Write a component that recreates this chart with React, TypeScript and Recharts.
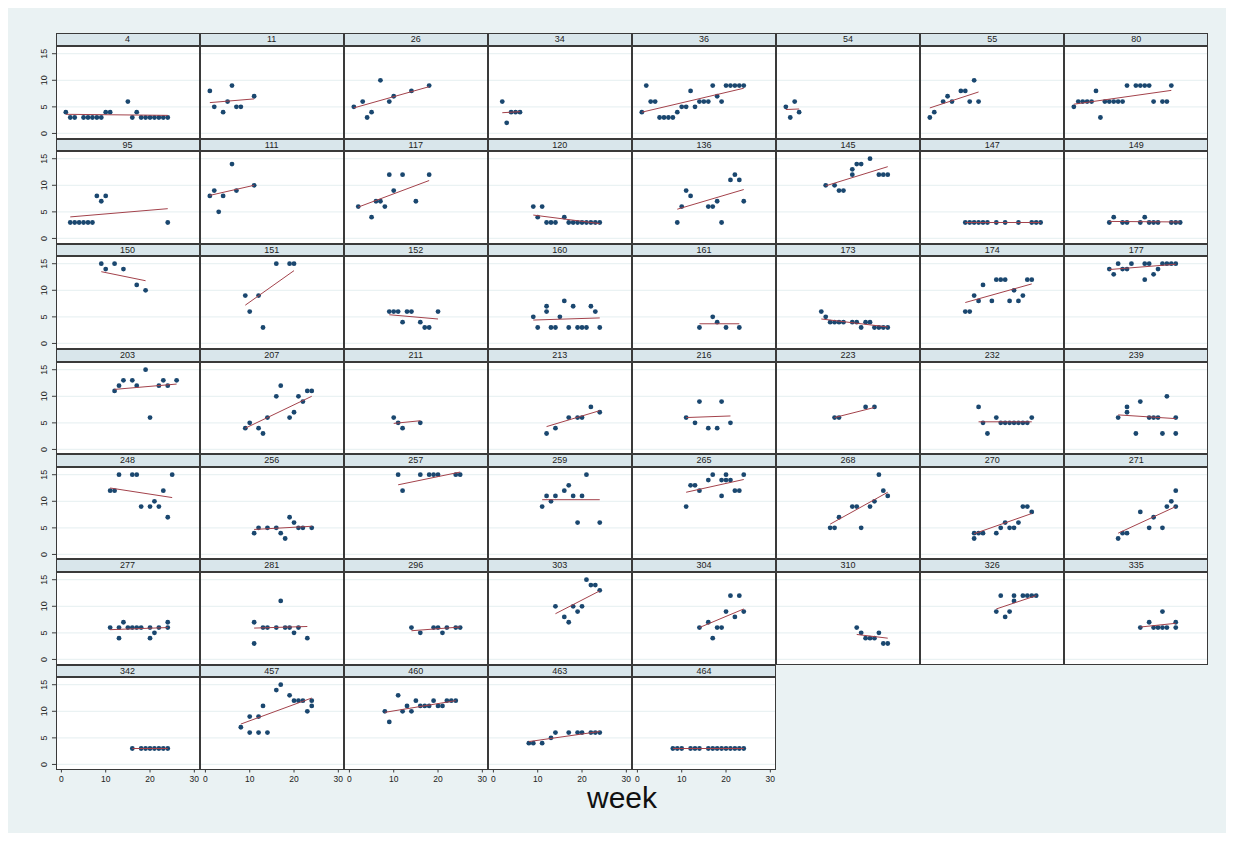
import { ScatterChart, Scatter, XAxis, YAxis, ReferenceLine } from 'recharts'

// one entry per patient panel, in reading order
const panelIds = [
  4, 11, 26, 34, 36, 54, 55, 80,
  95, 111, 117, 120, 136, 145, 147, 149,
  150, 151, 152, 160, 161, 173, 174, 177,
  203, 207, 211, 213, 216, 223, 232, 239,
  248, 256, 257, 259, 265, 268, 270, 271,
  277, 281, 296, 303, 304, 310, 326, 335,
  342, 457, 460, 463, 464,
]

const weeks = [
  [1, 2, 3, 5, 6, 7, 8, 9, 10, 11, 15, 16, 17, 18, 19, 20, 21, 22, 23, 24],
  [1, 2, 4, 5, 6, 7, 8, 11],
  [1, 3, 4, 5, 7, 9, 10, 14, 18],
  [2, 3, 4, 5, 6],
  [1, 2, 3, 4, 5, 6, 7, 8, 9, 10, 11, 12, 13, 14, 15, 16, 17, 18, 19, 20, 21, 22, 23, 24],
  [1, 2, 3, 4],
  [1, 2, 4, 5, 6, 8, 9, 10, 11, 12],
  [1, 2, 3, 4, 5, 6, 7, 8, 9, 10, 11, 12, 13, 15, 16, 17, 18, 19, 21, 22, 23],
  [2, 3, 4, 5, 6, 7, 8, 9, 10, 24],
  [1, 2, 3, 4, 6, 7, 11],
  [2, 5, 6, 7, 8, 9, 10, 12, 15, 18],
  [9, 10, 11, 12, 13, 14, 16, 17, 18, 19, 20, 21, 22, 23, 24],
  [9, 10, 11, 12, 16, 17, 18, 19, 21, 22, 23, 24],
  [10, 12, 13, 14, 16, 16, 17, 18, 20, 22, 23, 24],
  [9, 10, 11, 12, 13, 14, 16, 18, 21, 24, 25, 26],
  [9, 10, 12, 13, 16, 17, 18, 19, 20, 23, 24, 25],
  [9, 10, 12, 14, 17, 19],
  [9, 10, 12, 13, 16, 19, 20],
  [9, 10, 11, 12, 13, 14, 16, 17, 18, 20],
  [9, 10, 12, 12, 13, 14, 15, 16, 17, 18, 19, 20, 21, 22, 23, 24],
  [14, 17, 18, 20, 23],
  [9, 10, 11, 12, 13, 14, 16, 17, 18, 19, 20, 21, 22, 23, 24],
  [9, 10, 11, 12, 13, 15, 16, 17, 18, 19, 20, 21, 22, 23, 24],
  [9, 10, 11, 12, 13, 14, 17, 17, 18, 19, 20, 21, 22, 23, 24],
  [12, 13, 14, 16, 17, 19, 20, 22, 23, 24, 26],
  [9, 10, 12, 13, 14, 16, 17, 19, 20, 21, 22, 23, 24],
  [10, 11, 12, 16],
  [12, 14, 17, 19, 20, 22, 24],
  [11, 13, 14, 16, 18, 19, 21],
  [12, 13, 19, 21],
  [12, 13, 14, 16, 17, 18, 19, 20, 21, 22, 23, 24],
  [11, 13, 13, 15, 16, 18, 19, 20, 21, 22, 24, 24],
  [11, 12, 13, 16, 17, 18, 20, 21, 22, 23, 24, 25],
  [11, 12, 14, 16, 17, 18, 19, 20, 21, 22, 24],
  [11, 12, 16, 18, 19, 20, 24, 25],
  [11, 12, 13, 14, 16, 17, 18, 19, 20, 21, 24],
  [11, 12, 13, 14, 16, 17, 19, 19, 20, 20, 21, 22, 23, 24],
  [11, 12, 13, 16, 17, 18, 20, 21, 22, 23, 24],
  [11, 11, 12, 13, 16, 17, 18, 19, 20, 21, 22, 23, 24],
  [11, 12, 13, 16, 18, 19, 21, 22, 23, 24, 24],
  [11, 13, 13, 14, 15, 16, 17, 18, 20, 20, 21, 22, 24, 24],
  [11, 11, 13, 14, 16, 17, 18, 19, 20, 21, 23],
  [14, 16, 19, 20, 21, 22, 24, 25],
  [14, 16, 17, 18, 19, 20, 21, 22, 23, 24],
  [14, 16, 17, 18, 19, 20, 21, 22, 23, 24],
  [17, 18, 19, 20, 21, 22, 23, 24],
  [16, 17, 18, 19, 20, 20, 22, 23, 24, 25],
  [16, 18, 19, 20, 21, 21, 22, 24, 24],
  [16, 18, 19, 20, 21, 22, 23, 24],
  [8, 10, 10, 12, 12, 13, 14, 16, 17, 19, 20, 21, 22, 23, 24, 24],
  [8, 9, 11, 12, 13, 14, 15, 16, 17, 18, 19, 20, 21, 22, 23, 24],
  [8, 9, 11, 13, 14, 17, 19, 20, 22, 23, 24],
  [8, 9, 10, 12, 13, 14, 16, 17, 18, 19, 20, 21, 22, 23, 24],
]

const scores = [
  [4, 3, 3, 3, 3, 3, 3, 3, 4, 4, 6, 3, 4, 3, 3, 3, 3, 3, 3, 3],
  [8, 5, 4, 6, 9, 5, 5, 7],
  [5, 6, 3, 4, 10, 6, 7, 8, 9],
  [6, 2, 4, 4, 4],
  [4, 9, 6, 6, 3, 3, 3, 3, 4, 5, 5, 8, 5, 6, 6, 6, 9, 7, 6, 9, 9, 9, 9, 9],
  [5, 3, 6, 4],
  [3, 4, 6, 7, 6, 8, 8, 6, 10, 6],
  [5, 6, 6, 6, 6, 8, 3, 6, 6, 6, 6, 6, 9, 9, 9, 9, 9, 6, 6, 6, 9],
  [3, 3, 3, 3, 3, 3, 8, 7, 8, 3],
  [8, 9, 5, 8, 14, 9, 10],
  [6, 4, 7, 7, 6, 12, 9, 12, 7, 12],
  [6, 4, 6, 3, 3, 3, 4, 3, 3, 3, 3, 3, 3, 3, 3],
  [3, 6, 9, 8, 6, 6, 7, 3, 11, 12, 11, 7],
  [10, 10, 9, 9, 12, 13, 14, 14, 15, 12, 12, 12],
  [3, 3, 3, 3, 3, 3, 3, 3, 3, 3, 3, 3],
  [3, 4, 3, 3, 3, 4, 3, 3, 3, 3, 3, 3],
  [15, 14, 15, 14, 11, 10],
  [9, 6, 9, 3, 15, 15, 15],
  [6, 6, 6, 4, 6, 6, 4, 3, 3, 6],
  [5, 3, 7, 6, 3, 3, 5, 8, 3, 7, 3, 3, 3, 7, 6, 3],
  [3, 5, 4, 3, 3],
  [6, 5, 4, 4, 4, 4, 4, 4, 3, 4, 4, 3, 3, 3, 3],
  [6, 6, 9, 8, 11, 8, 12, 12, 12, 8, 10, 8, 9, 12, 12],
  [14, 13, 15, 14, 14, 15, 15, 12, 15, 13, 14, 15, 15, 15, 15],
  [11, 12, 13, 13, 12, 15, 6, 12, 13, 12, 13],
  [4, 5, 4, 3, 6, 10, 12, 6, 7, 10, 9, 11, 11],
  [6, 5, 4, 5],
  [3, 4, 6, 6, 6, 8, 7],
  [6, 5, 9, 4, 4, 9, 5],
  [6, 6, 8, 8],
  [8, 5, 3, 6, 5, 5, 5, 5, 5, 5, 5, 6],
  [6, 8, 7, 3, 9, 6, 6, 6, 3, 10, 6, 3],
  [12, 12, 15, 15, 15, 9, 9, 10, 9, 12, 7, 15],
  [4, 5, 5, 5, 4, 3, 7, 6, 5, 5, 5],
  [15, 12, 15, 15, 15, 15, 15, 15],
  [9, 11, 10, 11, 12, 13, 11, 6, 11, 15, 6],
  [9, 13, 13, 12, 14, 15, 14, 11, 15, 14, 14, 12, 12, 15],
  [5, 5, 7, 9, 9, 5, 9, 10, 15, 12, 11],
  [3, 4, 4, 4, 4, 5, 6, 5, 5, 6, 9, 9, 8],
  [3, 4, 4, 8, 5, 7, 5, 9, 10, 9, 12],
  [6, 6, 4, 7, 6, 6, 6, 6, 6, 4, 5, 6, 7, 6],
  [7, 3, 6, 6, 6, 11, 6, 6, 5, 6, 4],
  [6, 5, 6, 6, 5, 6, 6, 6],
  [10, 8, 7, 10, 9, 10, 15, 14, 14, 13],
  [6, 7, 4, 6, 6, 9, 12, 8, 12, 9],
  [6, 5, 4, 4, 4, 5, 3, 3],
  [9, 12, 8, 9, 12, 11, 12, 12, 12, 12],
  [6, 7, 6, 6, 6, 9, 6, 7, 6],
  [3, 3, 3, 3, 3, 3, 3, 3],
  [7, 9, 6, 9, 6, 11, 6, 14, 15, 13, 12, 12, 12, 10, 12, 11],
  [10, 8, 13, 10, 11, 10, 12, 11, 11, 11, 12, 11, 11, 12, 12, 12],
  [4, 4, 4, 5, 6, 6, 6, 6, 6, 6, 6],
  [3, 3, 3, 3, 3, 3, 3, 3, 3, 3, 3, 3, 3, 3, 3],
]

// fitted line value at first and last week of each panel
const fitEnds = [
  [3.6, 3.4], [5.8, 6.5], [4.8, 8.8], [3.9, 4.1], [4.0, 8.5], [4.5, 4.6], [4.8, 7.8], [5.5, 8.1],
  [4.05, 5.6], [8.1, 10.0], [5.9, 10.9], [4.4, 2.8], [5.5, 9.2], [9.9, 13.5], [3.0, 3.0], [3.2, 3.1],
  [13.5, 11.8], [7.2, 13.7], [5.4, 4.6], [4.4, 4.8], [3.7, 3.7], [4.6, 3.1], [7.7, 11.2], [13.9, 14.9],
  [11.3, 12.3], [4.0, 10.0], [4.9, 5.4], [4.3, 7.3], [6.0, 6.3], [6.0, 7.9], [5.2, 5.2], [6.5, 5.8],
  [12.5, 10.7], [4.7, 5.3], [13.1, 15.5], [10.3, 10.3], [11.7, 14.1], [5.7, 11.7], [3.9, 7.7], [4.0, 9.0],
  [5.6, 6.0], [5.9, 6.2], [5.4, 6.1], [8.6, 12.9], [6.0, 9.5], [4.7, 4.0], [9.5, 12.0], [6.1, 6.8],
  [3.0, 3.0], [7.6, 12.5], [9.8, 12.0], [4.3, 6.2], [3.0, 3.0],
]

const xTicks = [0, 10, 20, 30]
const yTicks = [0, 5, 10, 15]

const COLS = 8
const ROWS = 7
const GRID_LEFT = 55.5
const GRID_TOP = 33.3
const COL_W = 144.1
const ROW_H = 105.2
const HEAD_H = 12.7
const PLOT_H = ROW_H - HEAD_H
const Y_AXIS_W = 24
const X_AXIS_H = 22

const FONT = '"Liberation Sans", Arial, sans-serif'
const NAVY = '#1a476f'
const MAROON = '#a3414a'
const BORDER = '#3a3a3a'
const BG = '#eaf2f3'

const Dot = (props: any) => <circle cx={props.cx} cy={props.cy} r={2.4} fill={NAVY} />
const NoDot = () => <g />

const YTick = ({ x, y, payload }: any) => (
  <text x={x} y={y} transform={`rotate(-90 ${x} ${y})`} textAnchor="middle" fontSize={9} fill="#222" fontFamily={FONT}>
    {payload.value}
  </text>
)

const XTick = ({ x, y, payload }: any) => (
  <text x={x} y={y + 8} textAnchor="middle" fontSize={8.5} fill="#222" fontFamily={FONT}>
    {payload.value}
  </text>
)

function Panel({ i }: { i: number }) {
  const col = i % COLS
  const row = Math.floor(i / COLS)
  const showY = col === 0
  const showX = row === ROWS - 1
  const left = GRID_LEFT + col * COL_W
  const top = GRID_TOP + row * ROW_H
  const pts = weeks[i].map((w, k) => ({ week: w, score: scores[i][k] }))
  const fit = [
    { week: Math.min(...weeks[i]), score: fitEnds[i][0] },
    { week: Math.max(...weeks[i]), score: fitEnds[i][1] },
  ]
  return (
    <>
      <div
        style={{
          position: 'absolute', left, top, width: COL_W, height: HEAD_H, boxSizing: 'border-box',
          background: '#d9e6eb', border: `1px solid ${BORDER}`, fontFamily: FONT, fontSize: 9,
          color: '#222', textAlign: 'center', lineHeight: `${HEAD_H - 2}px`,
        }}
      >
        {panelIds[i]}
      </div>
      <div style={{ position: 'absolute', left: left - (showY ? Y_AXIS_W : 0), top: top + HEAD_H }}>
        <div style={{ position: 'absolute', left: showY ? Y_AXIS_W : 0, top: 0, width: COL_W, height: PLOT_H, background: '#fff' }} />
        <ScatterChart
          width={COL_W + (showY ? Y_AXIS_W : 0)}
          height={PLOT_H + (showX ? X_AXIS_H : 0)}
          margin={{ top: 0, right: 0, bottom: 0, left: 0 }}
        >
          <XAxis
            type="number" dataKey="week" domain={[-1.22, 31.3]} allowDataOverflow ticks={xTicks} interval={0}
            hide={!showX} height={X_AXIS_H} axisLine={false} tickSize={3} tickMargin={2}
            tickLine={{ stroke: BORDER }} tick={<XTick />}
          />
          <YAxis
            type="number" dataKey="score" domain={[-0.95, 16.45]} allowDataOverflow ticks={yTicks} interval={0}
            hide={!showY} width={Y_AXIS_W} axisLine={false} tickSize={4} tickMargin={5}
            tickLine={{ stroke: BORDER }} tick={<YTick />}
          />
          {yTicks.map((t) => (
            <ReferenceLine key={t} y={t} stroke={BG} strokeWidth={1.2} ifOverflow="hidden" />
          ))}
          <Scatter data={pts} shape={Dot} isAnimationActive={false} />
          <Scatter data={fit} shape={NoDot} line={{ stroke: MAROON, strokeWidth: 1 }} isAnimationActive={false} />
        </ScatterChart>
      </div>
      <div
        style={{
          position: 'absolute', left, top: top + HEAD_H, width: COL_W, height: PLOT_H,
          boxSizing: 'border-box', border: `1px solid ${BORDER}`, pointerEvents: 'none',
        }}
      />
    </>
  )
}

export default function App() {
  return (
    <div style={{ position: 'relative', width: 1234, height: 841, margin: -8, background: '#fff', overflow: 'hidden' }}>
      <div style={{ position: 'absolute', left: 7, top: 4, width: 1220, height: 834, background: BG }} />
      {panelIds.map((id, i) => (
        <Panel key={id} i={i} />
      ))}
      <svg width={1234} height={841} style={{ position: 'absolute', left: 0, top: 0, pointerEvents: 'none' }}>
        <text x={622} y={808} textAnchor="middle" fontSize={30} fill="#111" fontFamily={FONT}>
          week
        </text>
      </svg>
    </div>
  )
}
